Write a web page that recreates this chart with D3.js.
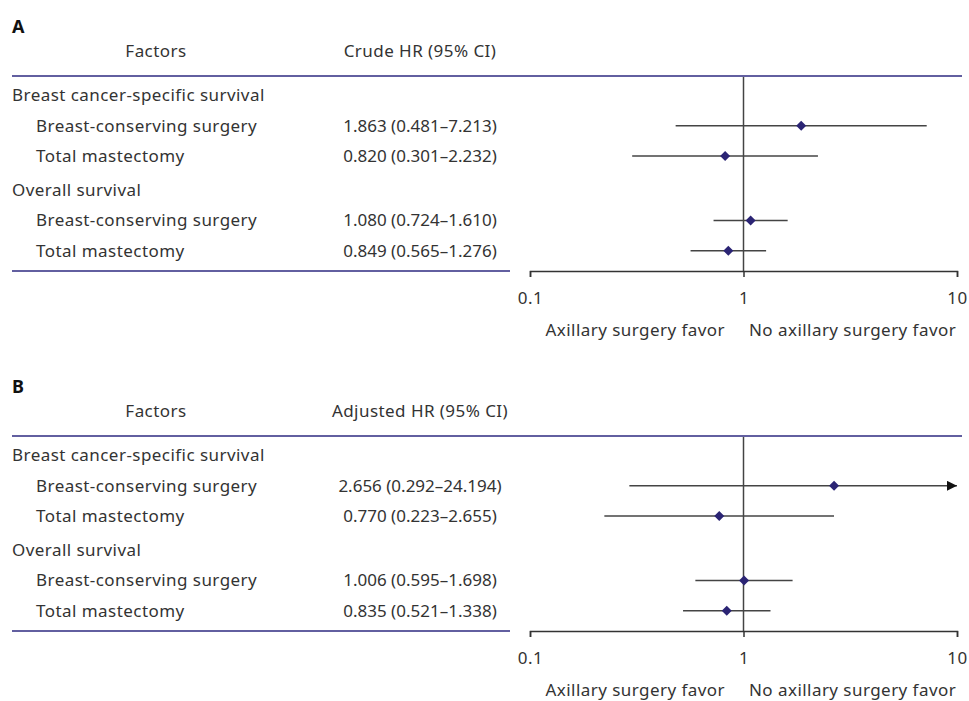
<!DOCTYPE html>
<html>
<head>
<meta charset="utf-8">
<script src="https://cdn.jsdelivr.net/npm/d3@7"></script>
<style>
  body { margin: 0; background: #fff; }
  text { font-family: "Noto Sans", sans-serif; fill: #333; letter-spacing: 0.45px; }
</style>
</head>
<body>
<script>
// panel data
const panelLetters = ['A', 'B'];
const hrHeaders = ['Crude HR (95% CI)', 'Adjusted HR (95% CI)'];
const groups = ['Breast cancer-specific survival', 'Overall survival'];
const factors = ['Breast-conserving surgery', 'Total mastectomy'];

// rows: BCSS/BCS, BCSS/TM, OS/BCS, OS/TM
const crudeHR = [1.863, 0.820, 1.080, 0.849];
const crudeLow = [0.481, 0.301, 0.724, 0.565];
const crudeHigh = [7.213, 2.232, 1.610, 1.276];

const adjHR = [2.656, 0.770, 1.006, 0.835];
const adjLow = [0.292, 0.223, 0.595, 0.521];
const adjHigh = [24.194, 2.655, 1.698, 1.338];

const tickValues = [0.1, 1, 10];
const favorLeft = 'Axillary surgery favor';
const favorRight = 'No axillary surgery favor';

const width = 969, height = 701;
const fmt = d3.format('.3f');
const fs = 17;

const svg = d3.select('body')
    .append('svg')
    .attr('width', width)
    .attr('height', height);

svg.append('defs').append('marker')
    .attr('id', 'arrow')
    .attr('viewBox', '0 0 10 10')
    .attr('refX', 10)
    .attr('refY', 5)
    .attr('markerWidth', 10)
    .attr('markerHeight', 10)
    .attr('markerUnits', 'userSpaceOnUse')
    .attr('orient', 'auto')
    .append('path')
    .attr('d', 'M0,0L10,5L0,10Z')
    .attr('fill', '#111');

// log scale for hazard ratios
const x = d3.scaleLog()
    .domain([0.1, 10])
    .range([530, 957]);

// row position: slot index plus an extra gap between the two groups
const rowY = d3.scaleLinear().domain([0, 1]).range([95.5, 125.8]);
const groupGap = 3.8;
const yOf = (g, i) => rowY(g * 3 + i) + g * groupGap; // i = 0 is group label

const panels = [
    { hr: crudeHR, lo: crudeLow, hi: crudeHigh },
    { hr: adjHR, lo: adjLow, hi: adjHigh }
];

panels.forEach((p, pi) => {
    const g = svg.append('g').attr('transform', `translate(0,${pi * 360})`);

    g.append('text')
        .attr('x', 12).attr('y', 33)
        .attr('font-size', 18).attr('font-weight', 'bold')
        .style('fill', '#111')
        .text(panelLetters[pi]);

    g.append('text')
        .attr('x', 156).attr('y', 57)
        .attr('text-anchor', 'middle').attr('font-size', fs)
        .text('Factors');

    g.append('text')
        .attr('x', 420).attr('y', 57)
        .attr('text-anchor', 'middle').attr('font-size', fs)
        .text(hrHeaders[pi]);

    // header rule
    g.append('line')
        .attr('x1', 12).attr('x2', 962)
        .attr('y1', 76).attr('y2', 76)
        .attr('stroke', '#2e2a80').attr('stroke-width', 1.5);

    // table bottom rule
    g.append('line')
        .attr('x1', 12).attr('x2', 510)
        .attr('y1', 271).attr('y2', 271)
        .attr('stroke', '#2e2a80').attr('stroke-width', 1.5);

    // reference line at HR = 1
    g.append('line')
        .attr('x1', x(1)).attr('x2', x(1))
        .attr('y1', 77).attr('y2', 271)
        .attr('stroke', '#444').attr('stroke-width', 1.5);

    const rows = [];
    groups.forEach((name, gi) => {
        g.append('text')
            .attr('x', 12).attr('y', yOf(gi, 0))
            .attr('dy', '0.35em').attr('font-size', fs)
            .text(name);
        factors.forEach((f, fi) => {
            const k = gi * 2 + fi;
            rows.push({ y: yOf(gi, fi + 1), label: f, hr: p.hr[k], lo: p.lo[k], hi: p.hi[k] });
        });
    });

    g.selectAll('.lab').data(rows).join('text')
        .attr('x', 36).attr('y', d => d.y)
        .attr('dy', '0.35em').attr('font-size', fs)
        .text(d => d.label);

    g.selectAll('.val').data(rows).join('text')
        .attr('x', 420).attr('y', d => d.y)
        .attr('dy', '0.35em').attr('font-size', fs)
        .attr('text-anchor', 'middle')
        .style('letter-spacing', '0px')
        .text(d => `${fmt(d.hr)} (${fmt(d.lo)}\u2013${fmt(d.hi)})`);

    const [dMin, dMax] = x.domain();
    g.selectAll('.ci').data(rows).join('line')
        .attr('x1', d => x(Math.max(d.lo, dMin)))
        .attr('x2', d => x(Math.min(d.hi, dMax)))
        .attr('y1', d => d.y).attr('y2', d => d.y)
        .attr('stroke', '#444').attr('stroke-width', 1.5)
        .attr('marker-end', d => d.hi > dMax ? 'url(#arrow)' : null);

    g.selectAll('.pt').data(rows).join('path')
        .attr('d', d3.symbol(d3.symbolSquare, 50))
        .attr('transform', d => `translate(${x(d.hr)},${d.y}) rotate(45)`)
        .attr('fill', '#2b2474');

    // axis
    const axis = g.append('g')
        .attr('transform', 'translate(0,271)')
        .call(d3.axisBottom(x)
            .tickValues(tickValues)
            .tickFormat(d3.format(''))
            .tickSize(6)
            .tickSizeOuter(6)
            .tickPadding(15));
    axis.select('.domain').attr('stroke', '#333').attr('stroke-width', 1.5);
    axis.selectAll('.tick line').attr('stroke', '#333').attr('stroke-width', 1.5);
    axis.selectAll('.tick text')
        .attr('font-size', fs)
        .attr('font-family', '"Noto Sans", sans-serif')
        .style('fill', '#333');

    g.append('text')
        .attr('x', 725).attr('y', 336)
        .attr('text-anchor', 'end').attr('font-size', fs)
        .text(favorLeft);
    g.append('text')
        .attr('x', 749).attr('y', 336)
        .attr('font-size', fs)
        .text(favorRight);
});
</script>
</body>
</html>
